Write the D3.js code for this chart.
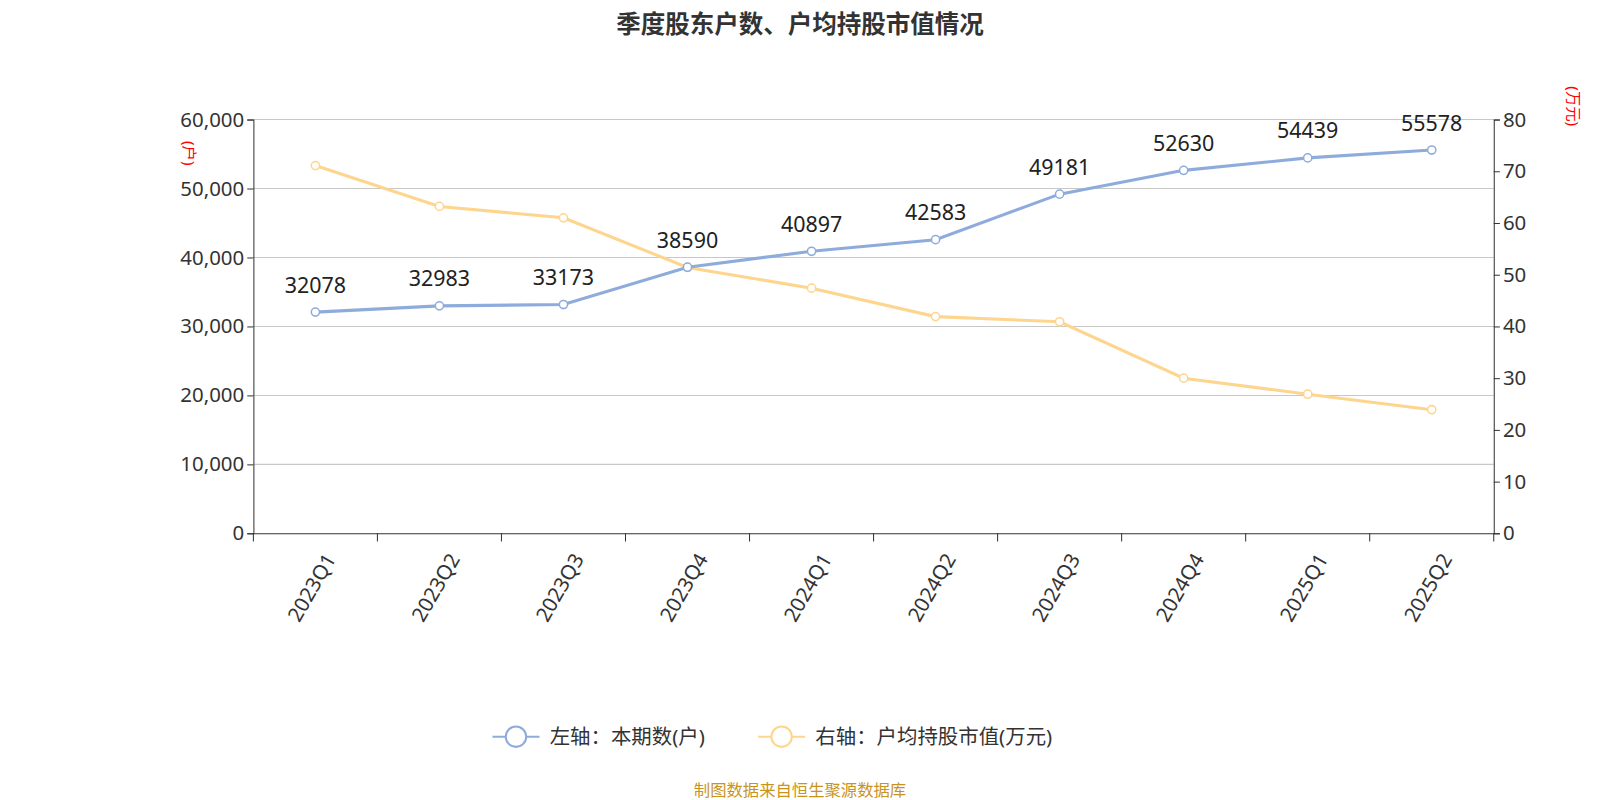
<!DOCTYPE html>
<html><head><meta charset="utf-8">
<script src="https://cdn.jsdelivr.net/npm/d3@7"></script>
<style>body{margin:0;background:#fff;font-family:"Noto Sans","Noto Sans CJK SC",sans-serif}</style>
</head><body><svg id="c" width="1600" height="800"></svg>
<script>
const quarters = ["2023Q1","2023Q2","2023Q3","2023Q4","2024Q1","2024Q2","2024Q3","2024Q4","2025Q1","2025Q2"];
const holders = [32078,32983,33173,38590,40897,42583,49181,52630,54439,55578];
const avgValue = [71.1,63.2,61.0,51.4,47.4,41.9,40.9,30.0,26.9,23.9];
const leftTicks = [0,10000,20000,30000,40000,50000,60000];
const rightTicks = [0,10,20,30,40,50,60,70,80];

// reference was measured on a 1566px-wide copy
const svg = d3.select("#c").append("g").attr("transform", `scale(${1600 / 1566})`);
const L = 248, R = 1462, T = 117, B = 522;
const blue = "#8eacdb", yellow = "#fdd58e";

const x = d3.scaleBand().domain(quarters).range([L, R]);
const yl = d3.scaleLinear().domain([0, 60000]).range([B, T]);
const yr = d3.scaleLinear().domain([0, 80]).range([B, T]);

svg.append("text").attr("x", 783).attr("y", 32).attr("text-anchor", "middle")
  .attr("font-size", 24).attr("font-weight", "bold").attr("fill", "#333").text("季度股东户数、户均持股市值情况");

// grid
svg.append("g").selectAll("line").data(leftTicks.slice(1)).join("line")
  .attr("x1", L).attr("x2", R).attr("y1", d => yl(d)).attr("y2", d => yl(d))
  .attr("stroke", "#c8c8c8");

// axes
const ga = svg.append("g").attr("transform", `translate(${L},0)`)
  .call(d3.axisLeft(yl).tickValues(leftTicks).tickFormat(d3.format(",")).tickSize(6));
const gr = svg.append("g").attr("transform", `translate(${R},0)`)
  .call(d3.axisRight(yr).tickValues(rightTicks).tickSize(6));
const gx = svg.append("g").attr("transform", `translate(0,${B})`)
  .call(d3.axisBottom(x).tickSize(0));
[ga, gr, gx].forEach(g => {
  g.selectAll("path,line").attr("stroke", "#333");
  g.selectAll("text").attr("font-size", 20).attr("fill", "#333").attr("font-family", "Noto Sans");
});
// category boundary ticks
svg.append("g").selectAll("line").data(d3.range(quarters.length + 1)).join("line")
  .attr("x1", i => L + i * x.step()).attr("x2", i => L + i * x.step())
  .attr("y1", B).attr("y2", B + 8).attr("stroke", "#333");
gx.selectAll("text").attr("text-anchor", "end").attr("dy", "0.35em")
  .attr("transform", "translate(12,20) rotate(-60)");

svg.append("text").attr("transform", "translate(180,150) rotate(90)").attr("text-anchor", "middle")
  .attr("font-size", 15).attr("fill", "red").text("(户)");
svg.append("text").attr("transform", "translate(1535,104) rotate(90)").attr("text-anchor", "middle")
  .attr("font-size", 15).attr("fill", "red").text("(万元)");

const cx = d => x(d) + x.bandwidth() / 2;
const drawLine = (vals, y, color) => {
  svg.append("path").datum(vals).attr("fill", "none").attr("stroke", color).attr("stroke-width", 3)
    .attr("d", d3.line().x((d, i) => cx(quarters[i])).y(d => y(d)));
  svg.append("g").selectAll("circle").data(vals).join("circle")
    .attr("cx", (d, i) => cx(quarters[i])).attr("cy", d => y(d)).attr("r", 4)
    .attr("fill", "#fff").attr("stroke", color).attr("stroke-width", 1.5);
};
drawLine(avgValue, yr, yellow);
drawLine(holders, yl, blue);

svg.append("g").selectAll("text").data(holders).join("text")
  .attr("x", (d, i) => cx(quarters[i])).attr("y", d => yl(d) - 19)
  .attr("text-anchor", "middle").attr("font-size", 21).attr("fill", "#222").text(d => d);

// legend
const leg = [{t: "左轴：本期数(户)", c: blue, x: 482}, {t: "右轴：户均持股市值(万元)", c: yellow, x: 742}];
leg.forEach(l => {
  svg.append("line").attr("x1", l.x).attr("x2", l.x + 46).attr("y1", 721).attr("y2", 721).attr("stroke", l.c).attr("stroke-width", 2);
  svg.append("circle").attr("cx", l.x + 23).attr("cy", 721).attr("r", 10).attr("fill", "#fff").attr("stroke", l.c).attr("stroke-width", 2);
  svg.append("text").attr("x", l.x + 56).attr("y", 728).attr("font-size", 20).attr("fill", "#333").text(l.t);
});

svg.append("text").attr("x", 783).attr("y", 779).attr("text-anchor", "middle")
  .attr("font-size", 16).attr("fill", "#c8941e").text("制图数据来自恒生聚源数据库");
</script></body></html>
